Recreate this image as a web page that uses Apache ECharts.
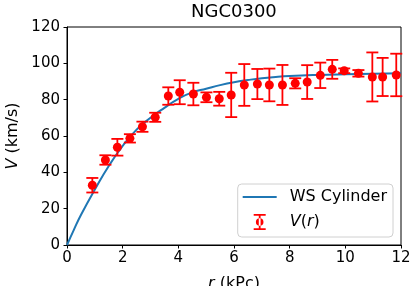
<!DOCTYPE html>
<html>
<head>
<meta charset="utf-8">
<script src="https://cdn.jsdelivr.net/npm/echarts@6/dist/echarts.min.js"></script>
<style>
html,body{margin:0;padding:0;background:#fff;}
#chart{width:410px;height:286px;}
</style>
</head>
<body>
<div id="chart"></div>
<script>
// Observed rotation curve
var rVals = [0.91,1.38,1.81,2.26,2.71,3.17,3.64,4.05,4.54,5.01,5.47,5.90,6.37,6.84,7.27,7.74,8.20,8.63,9.10,9.53,9.96,10.47,10.97,11.34,11.83];
var vVals = [32.9,46.8,53.8,58.7,65.1,70.3,82.0,84.1,83.1,81.3,80.5,82.6,88.1,88.6,88.1,88.1,89.0,89.7,93.4,96.7,95.9,94.5,92.5,92.5,93.6];
var vErr  = [4.0,2.6,4.6,2.3,2.8,2.5,4.8,6.6,6.2,2.7,3.8,12.2,11.5,8.3,9.0,11.0,2.8,9.3,7.0,5.2,1.3,1.8,13.5,10.5,11.7];
// WS Cylinder model curve
var modelR = [0,0.25,0.5,1,1.5,2,2.5,3,3.5,4,4.5,5,5.5,6,6.5,7,7.5,8,9,10,11,12];
var modelV = [0,8.5,16.5,30.5,43.5,54.5,63.5,70,75.5,80.5,84,86,88,89.6,90.8,91.8,92.5,93,93.6,94,94.3,94.5];
// Axis ticks
var xTicks = {min:0, max:12, interval:2};
var yTicks = {min:0, max:120, interval:20};

var FONT = 'DejaVu Sans';
var chart = echarts.init(document.getElementById('chart'), null, {renderer:'canvas'});

var pts = rVals.map(function(r,i){return [r, vVals[i]];});
var bars = rVals.map(function(r,i){return [r, vVals[i]-vErr[i], vVals[i]+vErr[i]];});
var model = modelR.map(function(r,i){return [r, modelV[i]];});

var errIcon = 'path://M0,0H12V1.8H0Z M0,14.2H12V16H0Z M5.1,0H6.9V16H5.1Z M2.2,8A3.8,3.8 0 1 0 9.8,8A3.8,3.8 0 1 0 2.2,8Z';
var lineIcon = 'path://M0,0H34V2H0Z';

chart.setOption({
  animation:false,
  backgroundColor:'#fff',
  title:{
    text:'NGC0300', left:191, top:3, padding:0,
    textStyle:{fontFamily:FONT, fontSize:18, fontWeight:'normal', color:'#000'}
  },
  grid:{left:67, right:9, top:27, bottom:41, show:true, borderColor:'#000', borderWidth:1,
        backgroundColor:'transparent', containLabel:false, outerBoundsMode:'none'},
  xAxis:{
    type:'value', min:xTicks.min, max:xTicks.max, interval:xTicks.interval,
    name:'{i|r} (kPc)', nameLocation:'middle', nameGap:31,
    nameTextStyle:{fontFamily:FONT, fontSize:16, color:'#000', rich:{i:{fontFamily:FONT, fontSize:16, fontStyle:'italic', color:'#000'}}},
    axisLine:{show:true, lineStyle:{color:'#000', width:1}},
    axisTick:{show:true, inside:false, length:3.5, lineStyle:{color:'#000', width:1}},
    axisLabel:{fontFamily:FONT, fontSize:15, color:'#000', margin:6},
    splitLine:{show:false}
  },
  yAxis:{
    type:'value', min:yTicks.min, max:yTicks.max, interval:yTicks.interval,
    name:'{i|V} (km/s)', nameLocation:'middle', nameGap:38, nameRotate:90,
    nameTextStyle:{fontFamily:FONT, fontSize:16, color:'#000', rich:{i:{fontFamily:FONT, fontSize:16, fontStyle:'italic', color:'#000'}}},
    axisLine:{show:true, lineStyle:{color:'#000', width:1}},
    axisTick:{show:true, inside:false, length:3.5, lineStyle:{color:'#000', width:1}},
    axisLabel:{fontFamily:FONT, fontSize:15, color:'#000', margin:7},
    splitLine:{show:false}
  },
  legend:{
    orient:'vertical', right:17, bottom:49,
    backgroundColor:'#fff', borderColor:'#d0d0d0', borderWidth:1, borderRadius:4,
    padding:[5,6,7,5], itemWidth:34, itemHeight:16, itemGap:9,
    symbolKeepAspect:true,
    textStyle:{fontFamily:FONT, fontSize:16, color:'#000',
      rich:{a:{fontFamily:FONT, fontSize:16, color:'#000', padding:[0,0,0,8]},
            i:{fontFamily:FONT, fontSize:16, fontStyle:'italic', color:'#000', padding:[0,0,0,8]},
            n:{fontFamily:FONT, fontSize:16, color:'#000'},
            j:{fontFamily:FONT, fontSize:16, fontStyle:'italic', color:'#000'}}},
    formatter:function(name){
      if(name==='V(r)') return '{i|V}{n|(}{j|r}{n|)}';
      return '{a|'+name+'}';
    },
    data:[{name:'WS Cylinder', icon:lineIcon, itemStyle:{color:'#1f77b4'}},
          {name:'V(r)', icon:errIcon, itemStyle:{color:'#ff0000'}}]
  },
  series:[
    {
      name:'WS Cylinder', type:'line', data:model, smooth:true, symbol:'none', showSymbol:false,
      lineStyle:{color:'#1f77b4', width:2}, itemStyle:{color:'#1f77b4'}, z:2
    },
    {
      name:'V(r)', type:'custom', data:bars, z:3,
      itemStyle:{color:'#ff0000'},
      renderItem:function(params, api){
        var x = api.value(0);
        var lo = api.coord([x, api.value(1)]);
        var hi = api.coord([x, api.value(2)]);
        var hw = 6;
        var st = {stroke:'#ff0000', lineWidth:1.8};
        return {type:'group', children:[
          {type:'line', shape:{x1:lo[0], y1:lo[1], x2:hi[0], y2:hi[1]}, style:st},
          {type:'line', shape:{x1:lo[0]-hw, y1:lo[1], x2:lo[0]+hw, y2:lo[1]}, style:st},
          {type:'line', shape:{x1:hi[0]-hw, y1:hi[1], x2:hi[0]+hw, y2:hi[1]}, style:st}
        ]};
      },
      encode:{x:0, y:[1,2]}
    },
    {
      name:'V(r)', type:'scatter', data:pts, symbol:'circle', symbolSize:9, z:4,
      itemStyle:{color:'#ff0000', opacity:1}
    }
  ]
});
</script>
</body>
</html>
